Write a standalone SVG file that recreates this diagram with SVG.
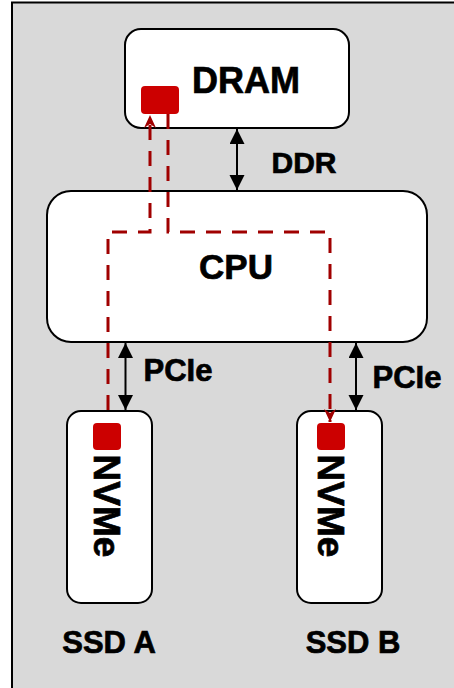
<svg xmlns="http://www.w3.org/2000/svg" width="454" height="688" viewBox="0 0 454 688">
<style>
.box{fill:#FFFFFF;stroke:#000000;stroke-width:2}
.chip{fill:#CC0000}
.lbl{font-family:"Liberation Sans",Arial,sans-serif;font-weight:bold;fill:#000000;stroke:#000000;stroke-width:0.7}
.bus{stroke:#000000;stroke-width:2;fill:none}
.flow{stroke:#A00000;stroke-width:3;fill:none;stroke-dasharray:15 11}
</style>
<defs>
<marker id="ah" markerUnits="userSpaceOnUse" markerWidth="16" markerHeight="16" refX="15" refY="7.5" orient="auto-start-reverse">
<path d="M0,0 L15,7.5 L0,15 z" fill="#000000"/>
</marker>
<marker id="rh" markerUnits="userSpaceOnUse" markerWidth="14" markerHeight="12" refX="13" refY="6" orient="auto">
<path d="M0,0 L13,6 L0,12 L4,6 z" fill="#A00000"/>
</marker>
</defs>
<rect x="12" y="2.5" width="452" height="700" fill="#D9D9D9" stroke="#000000" stroke-width="2"/>
<g id="dram">
<rect class="box" x="125" y="29" width="224" height="99" rx="16"/>
<text class="lbl" x="246" y="93" font-size="36" text-anchor="middle">DRAM</text>
<rect class="chip" x="141" y="86" width="38" height="28" rx="4"/>
</g>
<g id="cpu">
<rect class="box" x="47" y="191" width="380" height="151" rx="24"/>
<text class="lbl" x="236" y="279" font-size="35" text-anchor="middle">CPU</text>
</g>
<g id="ssd-a">
<rect class="box" x="67" y="411" width="85" height="192" rx="14"/>
<rect class="chip" x="93" y="423" width="28" height="27" rx="4"/>
<text class="lbl" x="0" y="0" font-size="37" text-anchor="middle" transform="translate(94,506) rotate(90)">NVMe</text>
<text class="lbl" x="109" y="653" font-size="31" text-anchor="middle">SSD A</text>
</g>
<g id="ssd-b">
<rect class="box" x="297" y="411" width="85" height="192" rx="14"/>
<rect class="chip" x="317" y="423" width="28" height="27" rx="4"/>
<text class="lbl" x="0" y="0" font-size="37" text-anchor="middle" transform="translate(318,506) rotate(90)">NVMe</text>
<text class="lbl" x="353" y="653" font-size="31" text-anchor="middle">SSD B</text>
</g>
<g id="connectors">
<line class="bus" x1="237" y1="129" x2="237" y2="190" marker-start="url(#ah)" marker-end="url(#ah)"/>
<text class="lbl" x="304" y="173" font-size="30" text-anchor="middle">DDR</text>
<line class="bus" x1="125.5" y1="343" x2="125.5" y2="410" marker-start="url(#ah)" marker-end="url(#ah)"/>
<text class="lbl" x="178" y="381" font-size="31" text-anchor="middle">PCIe</text>
<line class="bus" x1="356" y1="343" x2="356" y2="410" marker-start="url(#ah)" marker-end="url(#ah)"/>
<text class="lbl" x="407" y="388" font-size="31" text-anchor="middle">PCIe</text>
<path class="flow" d="M108,410 V232 H150 V115" marker-end="url(#rh)"/>
<path class="flow" d="M168,114 V232 H330 V422" marker-end="url(#rh)"/>
</g>
</svg>
